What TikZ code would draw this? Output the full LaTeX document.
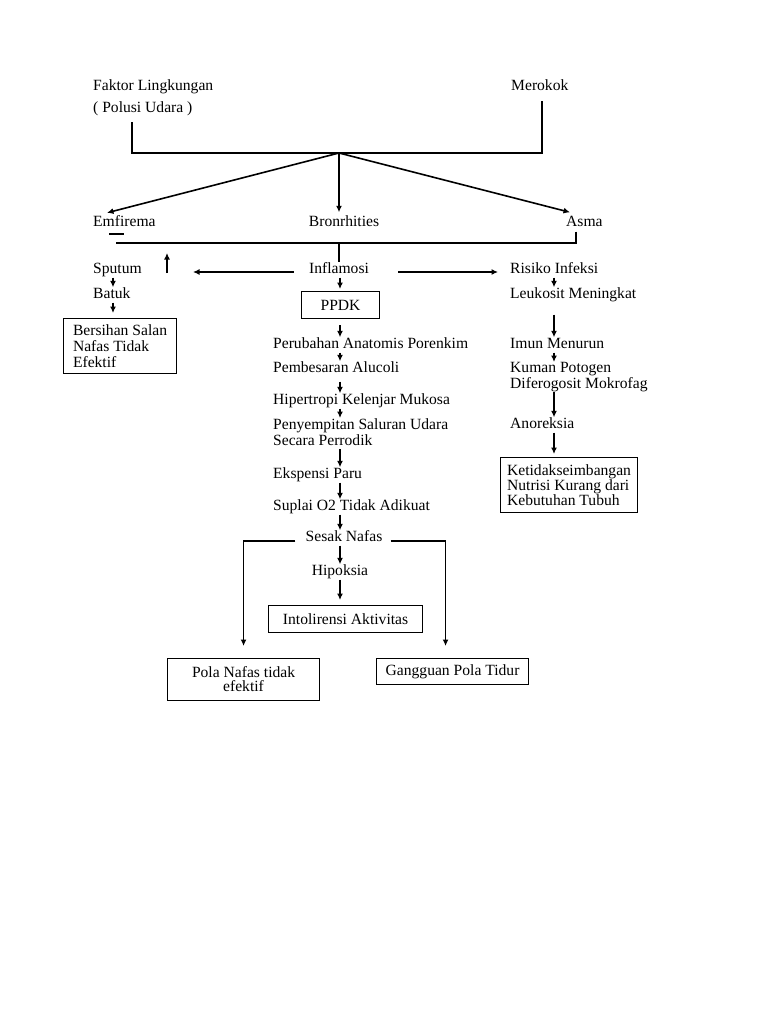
\documentclass[tikz,border=0pt]{standalone}
\usepackage{fontspec}
\setmainfont{Liberation Serif}
\usetikzlibrary{arrows.meta}
\begin{document}
\begin{tikzpicture}[x=1pt,y=-1pt,
  txt/.style={inner sep=0pt, text height=11pt, text depth=4pt, font=\fontsize{15.6}{16}\selectfont},
  mtxt/.style={inner sep=0pt, align=left, font=\fontsize{15.6}{16}\selectfont},
  ln/.style={line width=1.6pt},
  arr/.style={line width=1.6pt, -{Latex[length=6.5pt,width=6pt]}},
  box/.style={draw, line width=1.1pt, inner xsep=0pt, inner ysep=0pt, font=\fontsize{15.6}{16}\selectfont},
]
\fill[white] (0,0) rectangle (768,1024);
\useasboundingbox (0,0) rectangle (768,1024);

% top
\node[txt, anchor=west] (fl) at (93,87) {Faktor Lingkungan};
\node[txt, anchor=west] (pu) at (93,109) {( Polusi Udara )};
\node[txt, anchor=west] (mer) at (511,87) {Merokok};
\coordinate (j) at (339,153);
\node[txt, anchor=west] (emf) at (93,223) {Emfirema};
\node[txt] (bron) at (344,223) {Bronrhities};
\node[txt, anchor=west] (asma) at (566,223) {Asma};
\coordinate (hl) at (116,243);
\node[txt] (infl) at (339,270) {Inflamosi};

% left column
\coordinate (lc) at (113,0);
\coordinate (ltip) at (193,272);
\coordinate (upb) at (167,273);
\node[txt, anchor=west] (sput) at (93,270) {Sputum};
\node[txt, anchor=west] (bat) at (93,295) {Batuk};
\node[box, minimum width=113pt, minimum height=55pt, align=left, anchor=north west] (bers) at (63,318) {Bersihan Salan\\Nafas Tidak\\Efektif};

% middle column
\coordinate (mc) at (340,0);
\node[box, minimum width=78pt, minimum height=27pt, anchor=north west] (ppdk) at (301,291) {PPDK};
\node[txt, anchor=west] (peru) at (273,345) {Perubahan Anatomis Porenkim};
\node[txt, anchor=west] (pemb) at (273,369) {Pembesaran Alucoli};
\node[txt, anchor=west] (hip) at (273,401) {Hipertropi Kelenjar Mukosa};
\node[mtxt, anchor=north west] (peny) at (273,418) {Penyempitan Saluran Udara\\Secara Perrodik};
\node[txt, anchor=west] (eksp) at (273,475) {Ekspensi Paru};
\node[txt, anchor=west] (supl) at (273,507) {Suplai O2 Tidak Adikuat};
\node[txt] (sesak) at (344,538) {Sesak Nafas};
\node[txt] (hipo) at (340,572) {Hipoksia};
\node[box, minimum width=154pt, minimum height=27pt, anchor=north west] (intol) at (268,605) {Intolirensi Aktivitas};
\node[box, minimum width=152pt, minimum height=42pt, align=center, font=\fontsize{15.6}{14}\selectfont, anchor=north west] (pola) at (167,658) {Pola Nafas tidak\\efektif};
\node[box, minimum width=152pt, minimum height=26pt, anchor=north west] (gang) at (376,658) {Gangguan Pola Tidur};

% right column
\coordinate (rc) at (554,0);
\node[txt, anchor=west] (ris) at (510,270) {Risiko Infeksi};
\node[txt, anchor=west] (leuk) at (510,295) {Leukosit Meningkat};
\node[txt, anchor=west] (imun) at (510,345) {Imun Menurun};
\node[mtxt, anchor=north west] (kuman) at (510,362) {Kuman Potogen\\Diferogosit Mokrofag};
\node[txt, anchor=west] (anor) at (510,425) {Anoreksia};
\node[box, minimum width=137pt, minimum height=55pt, align=left, font=\fontsize{15.6}{15}\selectfont, anchor=north west] (nutr) at (500,457) {Ketidakseimbangan\\Nutrisi Kurang dari\\Kebutuhan Tubuh};

% connectors top
\draw[ln] ([xshift=39pt,yshift=-5.5pt]pu.south west) |- (j) -| ([xshift=31pt,yshift=-6.5pt]mer.south west);
\draw[arr] (j) -- ([xshift=14pt,yshift=2.5pt]emf.north west);
\draw[arr, shorten >=3pt] (j) -- (j |- bron.north);
\draw[arr] (j) -- ([xshift=4pt,yshift=3pt]asma.north west);
\draw[ln] ([xshift=16pt,yshift=-3.5pt]emf.south west) -- ++(15,0);
\draw[ln] ([xshift=10pt,yshift=-1pt]asma.south west) |- (hl);
\draw[ln] (infl.north |- hl) -- (infl.north);
\draw[arr, shorten >=10pt] (upb) -- (upb |- hl);
\draw[arr] ([xshift=-15pt,yshift=-2pt]infl.west) -- (ltip);
\draw[arr] ([xshift=29pt,yshift=-2pt]infl.east) -- ([xshift=-12pt,yshift=-2pt]ris.west);

% left column connectors
\draw[arr] (sput.south -| lc) -- (bat.north -| lc);
\draw[arr, shorten >=5pt] (bat.south -| lc) -- (bers.north -| lc);

% middle column connectors
\draw[arr, shorten >=2pt] (infl.south -| mc) -- (ppdk.north -| mc);
\draw[arr, shorten <=6pt] (ppdk.south -| mc) -- (peru.north -| mc);
\draw[arr] (peru.south -| mc) -- (pemb.north -| mc);
\draw[arr, shorten <=5pt] (pemb.south -| mc) -- (hip.north -| mc);
\draw[arr] (hip.south -| mc) -- (peny.north -| mc);
\draw[arr, shorten <=4pt] (peny.south -| mc) -- (eksp.north -| mc);
\draw[arr] (eksp.south -| mc) -- (supl.north -| mc);
\draw[arr] (supl.south -| mc) -- (sesak.north -| mc);
\draw[arr] (sesak.south -| mc) -- (hipo.north -| mc);
\draw[arr, shorten >=5pt] (hipo.south -| mc) -- (intol.north -| mc);
\draw[arr, shorten >=12pt] ([xshift=-10pt,yshift=-3pt]sesak.west) -| (pola.north);
\draw[arr, shorten >=12pt] ([xshift=8pt,yshift=-3pt]sesak.east) -| ([xshift=-7pt]gang.north);

% right column connectors
\draw[arr] (ris.south -| rc) -- (leuk.north -| rc);
\draw[arr, shorten <=12pt] (leuk.south -| rc) -- (imun.north -| rc);
\draw[arr] (imun.south -| rc) -- (kuman.north -| rc);
\draw[arr] (kuman.south -| rc) -- (anor.north -| rc);
\draw[arr, shorten >=3pt] (anor.south -| rc) -- (nutr.north -| rc);
\end{tikzpicture}
\end{document}
